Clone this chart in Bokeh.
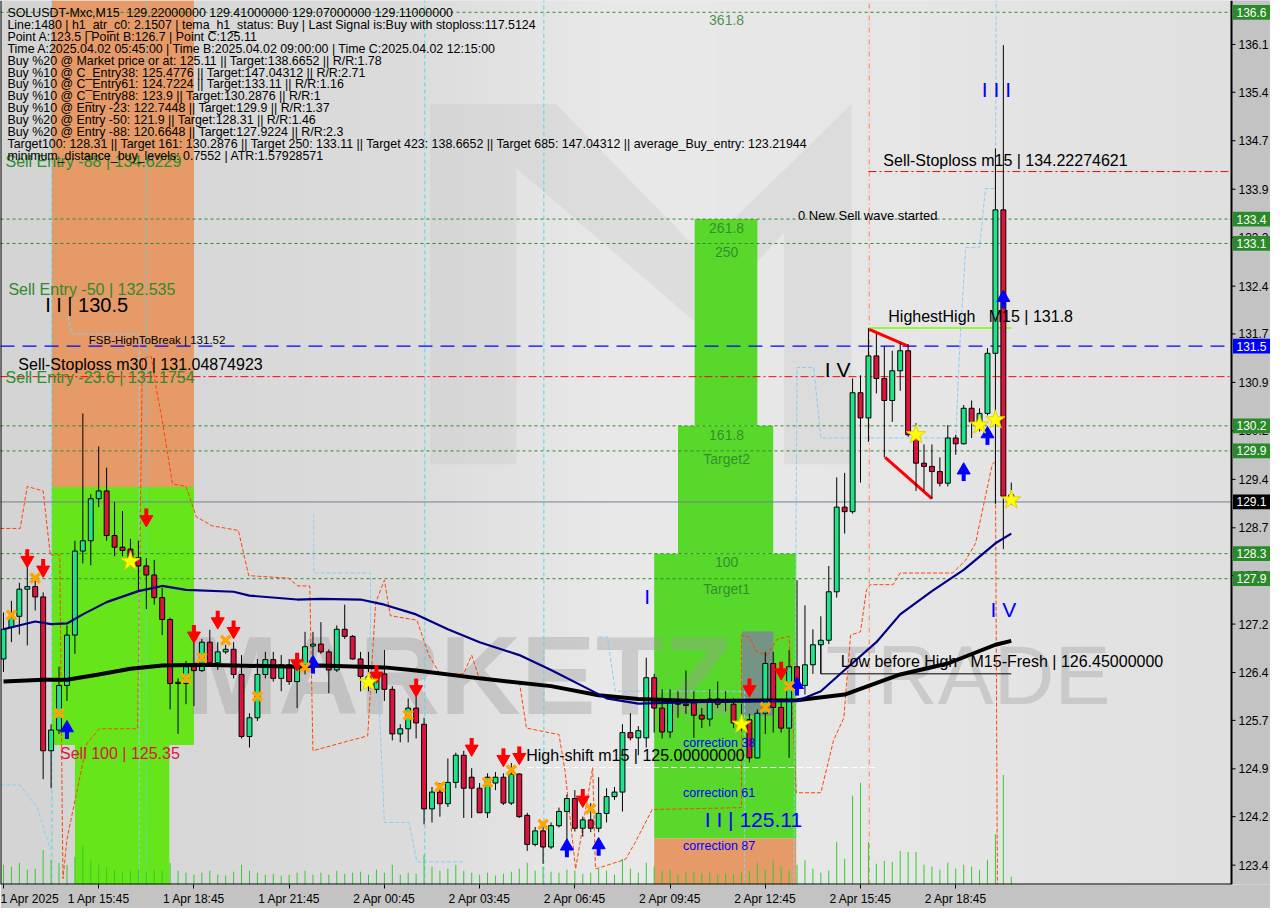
import numpy as np
from bokeh.plotting import figure
from bokeh.models import Range1d, FixedTicker, Label
from bokeh.embed import file_html
from bokeh.resources import INLINE
from bokeh.core.properties import value

# ---------------- data ----------------
opens = [126.68,127.17,127.34,127.76,127.80,127.64,125.26,125.58,126.27,127.05,
         128.35,128.51,129.16,129.28,128.59,128.41,128.38,128.25,128.12,127.98,
         127.63,127.29,126.30,126.30,126.56,126.50,126.94,126.62,126.79,126.83,
         126.44,125.48,125.77,126.44,126.67,126.38,126.59,126.33,126.53,126.88,
         126.91,126.79,126.51,127.14,127.03,126.68,126.41,126.21,126.45,126.21,
         125.52,125.60,125.92,125.67,124.36,124.62,124.44,124.77,125.19,124.85,
         124.68,124.30,124.76,124.85,124.45,124.90,124.26,123.81,124.02,123.77,
         124.10,124.32,124.52,124.06,124.19,124.06,124.29,124.55,124.62,125.54,
         125.46,125.46,126.39,125.92,125.55,126.00,125.98,126.00,125.81,125.75,
         126.06,126.03,125.98,125.72,125.74,125.15,125.84,126.61,125.93,125.61,
         126.56,126.27,126.59,126.90,126.97,127.72,129.03,128.96,130.80,130.41,
         131.37,131.02,130.68,131.14,131.45,130.15,129.71,129.66,129.58,129.40,
         130.10,130.01,130.56,130.35,130.48,131.41,133.63,129.22]
highs = [127.40,127.58,127.86,128.36,127.90,127.71,125.67,126.56,127.20,128.51,
         130.48,129.23,129.97,129.64,129.11,128.97,128.54,128.51,128.24,128.21,
         127.78,127.32,126.38,126.65,126.94,126.99,127.13,126.94,126.90,126.94,
         126.74,125.84,126.68,126.79,126.79,126.74,126.68,126.68,127.10,127.10,
         127.25,126.83,127.20,127.52,127.05,126.79,126.79,126.53,126.82,126.26,
         125.67,126.07,126.22,125.77,124.70,124.76,125.14,125.23,125.26,124.99,
         124.76,124.91,124.93,124.91,125.07,124.91,124.30,124.08,124.16,124.15,
         124.38,124.58,124.65,124.24,124.45,124.85,124.68,124.70,125.67,125.84,
         125.64,126.70,126.45,126.21,126.21,126.18,126.50,126.18,125.92,126.21,
         126.33,126.18,126.07,125.99,125.83,125.90,126.79,126.79,126.07,126.82,
         127.90,127.51,127.14,127.34,128.12,129.49,129.56,131.02,131.07,131.80,
         131.71,131.52,131.45,131.57,131.55,130.33,130.00,130.00,129.80,130.30,
         130.15,130.61,130.68,130.56,131.49,134.58,136.18,129.41]
lows = [126.48,126.94,127.06,126.89,127.43,124.82,124.68,125.52,126.03,126.76,
        128.16,128.13,129.03,128.51,128.27,128.27,128.12,127.75,127.45,127.52,
        127.05,125.90,125.52,125.98,125.95,126.48,126.59,126.51,126.76,126.38,
        125.45,125.31,125.72,126.38,126.33,126.18,126.28,125.92,126.44,126.74,
        126.76,126.15,126.48,126.99,126.67,126.18,126.18,126.15,126.03,125.42,
        125.39,125.39,125.45,124.12,124.15,124.24,124.39,124.68,124.22,124.22,
        124.30,124.22,124.65,124.42,124.42,124.22,123.71,123.78,123.51,123.74,
        124.07,123.74,124.01,123.93,124.00,124.00,124.15,124.50,124.32,125.42,
        125.19,125.31,125.54,125.45,125.46,125.77,125.83,125.46,125.61,125.64,
        125.92,125.87,125.61,125.57,125.08,125.14,125.52,125.54,125.54,125.15,
        126.13,126.13,126.45,126.45,126.91,127.63,128.62,128.93,129.41,130.04,
        130.79,129.80,130.35,130.83,130.12,129.28,129.28,129.16,129.35,129.35,
        129.84,130.00,130.10,130.20,130.45,129.08,128.38,129.07]
closes = [127.14,127.32,127.76,127.80,127.64,125.26,125.58,126.27,127.05,128.35,
          128.51,129.16,129.28,128.59,128.41,128.36,128.25,128.12,127.98,127.63,
          127.29,126.30,126.32,126.56,126.50,126.94,126.62,126.79,126.83,126.44,
          125.48,125.77,126.44,126.67,126.38,126.59,126.33,126.53,126.87,126.91,
          126.79,126.51,127.14,127.03,126.68,126.41,126.33,126.45,126.21,125.52,
          125.60,125.92,125.69,124.36,124.62,124.44,124.77,125.19,124.68,124.68,
          124.30,124.85,124.85,124.45,124.90,124.24,123.81,124.02,123.77,124.10,
          124.32,124.52,124.06,124.19,124.06,124.29,124.55,124.62,125.54,125.46,
          125.57,126.39,125.92,125.55,126.00,125.98,125.96,125.81,125.75,126.06,
          125.98,126.01,125.69,125.65,125.15,125.84,126.61,125.93,125.61,126.56,
          126.27,126.59,126.90,126.97,127.72,129.03,128.96,130.80,130.41,131.37,
          131.02,130.68,131.14,131.45,130.15,129.71,129.66,129.58,129.40,130.10,
          130.01,130.56,130.35,130.48,131.41,133.63,129.20,129.11]
volumes = [20,18,22,15,16,35,25,22,20,28,
           40,25,20,18,15,12,14,16,12,15,
           14,22,14,12,10,12,14,10,9,13,
           20,14,12,10,11,9,10,12,14,10,
           12,10,14,11,12,13,10,15,12,20,
           10,12,11,30,18,14,16,20,14,12,
           10,12,9,11,13,16,22,14,18,13,
           12,15,14,11,12,16,14,10,26,16,
           12,22,18,14,15,10,12,13,11,12,
           10,11,10,12,14,22,15,24,18,14,
           20,25,16,12,14,43,26,90,103,43,
           21,24,23,34,33,33,20,18,15,22,
           16,20,18,15,25,51,111,8]

x_tick_idx = [0, 12, 24, 36, 48, 60, 72, 84, 96, 108, 120]
x_tick_labels = ["1 Apr 2025", "1 Apr 15:45", "1 Apr 18:45", "1 Apr 21:45", "2 Apr 00:45",
                 "2 Apr 03:45", "2 Apr 06:45", "2 Apr 09:45", "2 Apr 12:45", "2 Apr 15:45",
                 "2 Apr 18:45"]
y_tick_vals = [136.19, 135.45, 134.70, 133.95, 133.20, 132.45, 131.71, 130.96, 130.21,
               129.46, 128.71, 127.97, 127.22, 126.47, 125.73, 124.98, 124.24, 123.49]
y_tick_labels = ["136.1", "135.4", "134.7", "133.9", "133.2", "132.4", "131.7", "130.9", "130.2",
                 "129.4", "128.7", "127.9", "127.2", "126.4", "125.7", "124.9", "124.2", "123.4"]

# moving averages (bar index, price)
ma_fast_idx = [0,4,6,8,10,13,17,20,23,29,31,37,40,45,48,52,56,60,65,69,73,76,80,87,95,100,103,106,110,113,117,121,125,127]
ma_fast_val = [127.14,127.26,127.22,127.23,127.37,127.56,127.73,127.81,127.75,127.72,127.66,127.60,127.61,127.60,
               127.52,127.37,127.14,126.94,126.74,126.51,126.26,126.07,125.99,126.01,126.03,126.03,126.18,126.51,
               126.94,127.37,127.73,128.06,128.47,128.62]
ma_slow_idx = [0,5,8,12,16,20,25,29,37,40,48,52,60,69,75,80,87,100,106,113,119,125,127]
ma_slow_val = [126.33,126.36,126.36,126.44,126.53,126.58,126.59,126.58,126.56,126.58,126.55,126.50,126.38,
               126.26,126.12,126.06,126.03,126.04,126.13,126.44,126.61,126.90,126.96]

# stepped envelope (orange-red dashed)
env_idx = [-0.4,2.1,3.0,5.0,5.9,7.1,7.4,7.5,8.0,10.5,12.1,16.9,17.5,18.6,19.4,19.9,21.3,23.0,24.3,26.3,29.6,
           30.9,35.9,37.1,38.6,39.0,43.75,45.9,46.9,48.0,48.75,52.1,53.6,55.0,58.0,59.0,60.0,65.0,65.9,70.0,
           70.75,72.1,74.25,74.6,78.4,79.6,81.75,93.0,93.0,94.0,94.9,96.25,97.5,99.0,99.9,103.0,104.6,105.9,
           106.75,108.0,108.75,109.25,112.1,113.0,119.6,121.25,122.5,123.0,124.6,125.0,125.25]
env_val = [128.70,128.70,129.35,129.28,128.29,128.29,124.35,123.28,123.89,125.37,125.60,125.60,131.32,131.37,
           130.76,130.45,129.39,129.35,128.88,128.74,128.67,127.97,127.93,127.81,127.81,125.26,125.42,125.49,
           127.55,127.90,127.35,127.28,126.74,126.45,126.45,126.74,126.36,126.33,125.61,125.51,124.96,123.43,
           125.00,123.43,123.58,123.84,124.35,124.38,127.05,127.02,126.79,126.74,126.99,127.03,124.61,124.61,
           125.42,125.77,127.05,127.10,127.75,127.83,127.83,128.01,128.01,128.21,128.47,128.77,129.69,129.74,123.19]

# stepped light-blue dashed line, several pieces
sky_idx = [[-0.4,2.1,4.25,5.9],
           [8.1,8.6,17.1,17.1],
           [39.1,39.1,46.25,46.25,47.1,48.0,51.1,52.1,58.0],
           [75.0,76.1,77.1,93.4,93.4],
           [99.6,100.0,102.1,103.0,120.0,120.5,121.25,123.0,123.75,125.0,125.1]]
sky_val = [[124.73,124.73,124.38,123.74],
           [131.98,131.71,131.71,123.19],
           [128.93,128.01,128.01,126.94,126.68,124.15,124.15,123.54,123.54],
           [127.02,127.02,126.18,126.18,123.19],
           [123.19,131.19,131.19,130.10,130.10,131.52,133.05,133.05,133.96,133.96,136.87]]

# levels
green_levels = [136.6876, 133.4876, 133.11, 130.2876, 129.9, 128.31, 127.9224]
fsb_level = 131.52
stop_m30 = 131.04874923
stop_m15 = 134.22274621
current_price = 129.11
high_shift = 125.0
low_before_high = 126.45
highest_high = 131.8

tag_vals = [136.6876, 133.4876, 133.11, 131.52, 130.2876, 129.9, 129.11, 128.31, 127.9224]
tag_texts = ["136.6", "133.4", "133.1", "131.5", "130.2", "129.9", "129.1", "128.3", "127.9"]
tag_colors = ["#2a8a2a", "#2a8a2a", "#2a8a2a", "#0000ff", "#2a8a2a", "#2a8a2a", "#000000", "#2a8a2a", "#2a8a2a"]

# signal markers (bar index, price)
sell_arrow_idx = [3,5,18,24,27,29,37,47,52,59,63,65,73,94,98]
sell_arrow_val = [128.27,128.12,128.90,127.10,127.32,127.17,126.67,126.48,126.27,125.35,125.19,125.22,124.56,126.27,126.53]
buy_arrow_idx = [8,39,71,75,100,121,124,126]
buy_arrow_val = [125.55,126.56,123.72,123.74,126.22,129.54,130.10,132.21]
cross_idx = [1,4,7,23,25,28,32,38,51,55,61,64,68,74,96,99]
cross_val = [127.36,127.93,125.84,126.38,126.70,126.97,126.10,126.55,125.81,124.70,124.77,124.96,124.12,124.36,125.93,126.26]
star_idx = [16,46,93,115,123,125,127]
star_val = [128.19,126.32,125.67,130.15,130.30,130.38,129.14]

# ---------------- geometry ----------------
FW = 1270                     # frame width in px (chart + price scale)
CW = 1231.0                   # chart part width in px
X0, XC = -0.375, 154.75       # chart x limits (bar index)
XE = X0 + (XC - X0) * FW / CW  # end of price-scale strip
Y0, Y1 = 123.19, 136.87
REF_W, REF_H = 1241.0, 896.0
KY = (Y1 - Y0) / REF_H
KX = (XC - X0) / CW


def rx(px):
    return X0 + (XC - X0) * px / REF_W


def ry(py):
    return Y1 - (Y1 - Y0) * py / REF_H


p = figure(width=FW, height=908, output_backend="svg", toolbar_location=None,
           x_range=Range1d(X0, XE), y_range=Range1d(Y0, Y1), y_axis_location=None,
           min_border_left=0, min_border_top=0, min_border_right=0, min_border_bottom=0)
p.extra_y_ranges = {"vol": Range1d(0, REF_H)}
p.background_fill_color = "#dcdcdc"
p.border_fill_color = "#c3c3c3"
p.outline_line_color = None
p.grid.visible = False

# background gradient
g = np.interp(np.linspace(0, 1, 256), [0, 0.33, 0.5, 0.75, 1.0], [212, 220, 233, 230, 224]).astype(np.uint8)
img = np.empty((2, 256), dtype=np.uint32)
view = img.view(dtype=np.uint8).reshape((2, 256, 4))
view[..., 0] = g
view[..., 1] = g
view[..., 2] = g
view[..., 3] = 255
p.image_rgba(image=[img], x=X0, y=Y0, dw=XC - X0, dh=Y1 - Y0)

# logo shapes (faint)
p.patch([rx(433), rx(560), rx(705), rx(858), rx(858), rx(790), rx(790), rx(705), rx(520), rx(520), rx(433)],
        [ry(105), ry(105), ry(255), ry(105), ry(470), ry(470), ry(235), ry(330), ry(170), ry(470), ry(470)],
        fill_color="#c8c8c8", fill_alpha=0.35, line_color=None)

# zones
p.quad(left=[6.1], right=[24.0], bottom=[129.34], top=[Y1], fill_color="#e59a68", line_color=None)
p.quad(left=[6.1], right=[24.0], bottom=[125.35], top=[129.34], fill_color="#66e61a", line_color=None)
p.quad(left=[9.0], right=[20.9], bottom=[Y0], top=[125.35], fill_color="#66e61a", line_color=None)
p.quad(left=[87.1, 85.0, 82.0], right=[95.0, 97.0, 99.9], bottom=[130.2876, 128.31, 123.9],
       top=[133.4876, 130.2876, 128.31], fill_color="#57d82a", line_color=None)
p.quad(left=[82.0], right=[99.9], bottom=[Y0], top=[123.9], fill_color="#e59a68", line_color=None)
p.quad(left=[93.1], right=[97.0], bottom=[125.80], top=[127.11], fill_color="#7a8896", fill_alpha=0.85, line_color=None)

# watermark
p.text(x=[rx(186)], y=[ry(684)], text=["MARKETZ"], text_font=value("Liberation Sans"),
       text_font_size=value("112px"), text_font_style="bold", text_color="#9a9a9a", text_alpha=0.38,
       text_baseline="middle")
p.text(x=[rx(832)], y=[ry(684)], text=["TRADE"], text_font=value("Liberation Sans"),
       text_font_size=value("84px"), text_color="#a8a8a8", text_alpha=0.45, text_baseline="middle")

# vertical dashed lines
for vx, col, dash in [(6.1, "#4fd6e8", "4 3"), (18.0, "#4fd6e8", "4 3"), (53.1, "#4fd6e8", "4 3"),
                      (68.1, "#4fd6e8", "4 3"), (109.1, "#ff7f50", "5 3 1 3")]:
    p.segment(x0=[vx], y0=[Y0], x1=[vx], y1=[Y1], line_color=col, line_dash=dash, line_width=1)

# level lines
for lv in green_levels:
    p.segment(x0=[X0], y0=[lv], x1=[XC], y1=[lv], line_color="#2e8b2e", line_dash="3 3", line_width=1)
p.segment(x0=[X0], y0=[fsb_level], x1=[XC], y1=[fsb_level], line_color="#0000ff", line_dash="14 8", line_width=1.3)
p.segment(x0=[X0], y0=[stop_m30], x1=[XC], y1=[stop_m30], line_color="#ff0000", line_dash="8 3 2 3", line_width=1)
p.segment(x0=[109.0], y0=[stop_m15], x1=[XC], y1=[stop_m15], line_color="#ff0000", line_dash="8 3 2 3", line_width=1)
p.segment(x0=[X0], y0=[current_price], x1=[XC], y1=[current_price], line_color="#708090", line_width=1)
p.segment(x0=[66.0], y0=[high_shift], x1=[110.0], y1=[high_shift], line_color="white", line_dash="6 3", line_width=1)
p.line([103.0, 103.0, 127.0], [126.94, low_before_high, low_before_high], line_color="black", line_width=1)
p.segment(x0=[109.0], y0=[highest_high], x1=[127.0], y1=[highest_high], line_color="#7cfc00", line_width=1.5)
p.segment(x0=[109.1, 111.1], y0=[131.78, 129.80], x1=[114.0, 117.0], y1=[131.52, 129.16],
          line_color="#ff0000", line_width=3)

# envelope lines
p.line(env_idx, env_val, line_color="#ff4500", line_dash="4 2", line_width=1)
p.multi_line(sky_idx, sky_val, line_color="#87cefa", line_dash="4 2", line_width=1)

# volumes
n = min(len(opens), len(highs), len(lows), len(closes))
idx = list(range(n))
p.segment(x0=idx, y0=[0] * n, x1=idx, y1=volumes[:n], y_range_name="vol", line_color="#32cd32", line_width=1)

# candles
p.segment(x0=idx, y0=lows[:n], x1=idx, y1=highs[:n], line_color="black", line_width=1)
up = [i for i in idx if closes[i] >= opens[i]]
dn = [i for i in idx if closes[i] < opens[i]]
p.vbar(x=up, bottom=[opens[i] for i in up], top=[closes[i] for i in up], width=0.62,
       fill_color="#1de68a", line_color="black", line_width=1)
p.vbar(x=dn, bottom=[closes[i] for i in dn], top=[opens[i] for i in dn], width=0.62,
       fill_color="#dc143c", line_color="black", line_width=1)

# moving averages
p.line(ma_slow_idx, ma_slow_val, line_color="black", line_width=4)
p.line(ma_fast_idx, ma_fast_val, line_color="#000080", line_width=2.2)

# markers
p.segment(x0=sell_arrow_idx, y0=[v + 7 * KY for v in sell_arrow_val], x1=sell_arrow_idx,
          y1=[v - 1 * KY for v in sell_arrow_val], line_color="#ff0000", line_width=4)
p.scatter(sell_arrow_idx, [v - 4 * KY for v in sell_arrow_val], marker="inverted_triangle", size=13,
          fill_color="#ff0000", line_color="#ff0000")
p.segment(x0=buy_arrow_idx, y0=[v - 7 * KY for v in buy_arrow_val], x1=buy_arrow_idx,
          y1=[v + 1 * KY for v in buy_arrow_val], line_color="#0000ff", line_width=4)
p.scatter(buy_arrow_idx, [v + 4 * KY for v in buy_arrow_val], marker="triangle", size=13,
          fill_color="#0000ff", line_color="#0000ff")
p.scatter(cross_idx, cross_val, marker="x", size=13, line_color="#ffa500", line_width=3.5)
p.scatter(star_idx, star_val, marker="star", size=20, fill_color="#ffff00", line_color="#e6d200")

# ---------- price scale strip (inside the frame, right of the chart) ----------
p.quad(left=[XC], right=[XE + 1], bottom=[Y0 - 1], top=[Y1 + 1], fill_color="#c3c3c3", line_color=None)
p.segment(x0=[XC, X0, X0], y0=[Y0, Y0, Y0], x1=[XC, XC, X0], y1=[Y1, Y0, Y1], line_color="black", line_width=2)
p.segment(x0=[XC] * len(y_tick_vals), y0=y_tick_vals, x1=[XC + 4 * KX] * len(y_tick_vals), y1=y_tick_vals,
          line_color="black", line_width=1)
p.text(x=[XC + 7 * KX] * len(y_tick_vals), y=y_tick_vals, text=y_tick_labels, text_font=value("Liberation Sans"),
       text_font_size=value("12px"), text_color="black", text_baseline="middle")
p.quad(left=[XC + 1.5 * KX] * len(tag_vals), right=[XE + 1] * len(tag_vals),
       bottom=[v - 7.5 * KY for v in tag_vals], top=[v + 7.5 * KY for v in tag_vals],
       fill_color=tag_colors, line_color=None)
p.text(x=[XC + 5 * KX] * len(tag_vals), y=tag_vals, text=tag_texts, text_font=value("Liberation Sans"),
       text_font_size=value("12px"), text_color="white", text_baseline="middle")

# x axis
p.xaxis.ticker = FixedTicker(ticks=x_tick_idx)
p.xaxis.major_label_overrides = dict(zip(x_tick_idx, x_tick_labels))
p.xaxis.major_label_text_align = "left"
p.xaxis.major_label_text_font = "Liberation Sans"
p.xaxis.major_label_text_font_size = "12px"
p.xaxis.major_label_text_color = "black"
p.xaxis.major_tick_in = 0
p.xaxis.major_tick_out = 4
p.xaxis.minor_tick_out = 0
p.xaxis.minor_tick_in = 0
p.xaxis.axis_line_color = None
p.xaxis.major_tick_line_color = "black"
p.xaxis.major_label_standoff = 3


def lab(px, py, text, size="16px", color="black", align="left", font="Liberation Sans", alpha=1.0):
    p.add_layout(Label(x=rx(px), y=ry(py), text=text.replace("  ", "\u00a0\u00a0"), text_font=font,
                       text_font_size=size, text_color=color, text_align=align, text_baseline="middle",
                       text_alpha=alpha))


info = ["SOLUSDT-Mxc,M15  129.22000000 129.41000000 129.07000000 129.11000000",
        "Line:1480 | h1_atr_c0: 2.1507 | tema_h1_status: Buy | Last Signal is:Buy with stoploss:117.5124",
        "Point A:123.5 | Point B:126.7 | Point C:125.11",
        "Time A:2025.04.02 05:45:00 | Time B:2025.04.02 09:00:00 | Time C:2025.04.02 12:15:00",
        "Buy %20 @ Market price or at: 125.11 || Target:138.6652 || R/R:1.78",
        "Buy %10 @ C_Entry38: 125.4776 || Target:147.04312 || R/R:2.71",
        "Buy %10 @ C_Entry61: 124.7224 || Target:133.11 || R/R:1.16",
        "Buy %10 @ C_Entry88: 123.9 || Target:130.2876 || R/R:1",
        "Buy %10 @ Entry -23: 122.7448 || Target:129.9 || R/R:1.37",
        "Buy %20 @ Entry -50: 121.9 || Target:128.31 || R/R:1.46",
        "Buy %20 @ Entry -88: 120.6648 || Target:127.9224 || R/R:2.3",
        "Target100: 128.31 || Target 161: 130.2876 || Target 250: 133.11 || Target 423: 138.6652 || Target 685: 147.04312 || average_Buy_entry: 123.21944",
        "minimum_distance_buy_levels: 0.7552 | ATR:1.57928571"]

lab(5, 163, "Sell Entry -88 | 134.6229", "16px", "#2e8b2e")
for k, t in enumerate(info):
    lab(7, 12.5 + 12.1 * k, t, "12.4px", "black")

lab(8, 293, "Sell Entry -50 | 132.535", "16px", "#2e8b2e")
lab(45, 309, "I I | 130.5", "20px", "black")
lab(89, 344, "FSB-HighToBreak | 131.52", "11.5px", "black")
lab(18, 369, "Sell-Stoploss m30 | 131.04874923", "16px", "black")
lab(5, 382, "Sell Entry -23.6 | 131.1754", "16px", "#2e8b2e")
lab(60, 763, "Sell 100 | 125.35", "16px", "#dc143c")

for py, t in [(20, "361.8"), (231, "261.8"), (255, "250"), (440, "161.8"), (465, "Target2"), (569, "100"), (596, "Target1")]:
    lab(732, py, t, "14px", "#2f7f2f", align="center", alpha=0.85)
lab(688, 753, "correction 38", "12.5px", "#0000ff")
lab(688, 803, "correction 61", "12.5px", "#0000ff")
lab(688, 857, "correction 87", "12.5px", "#0000ff")
lab(710, 830, "I I | 125.11", "21px", "#0000ff")
lab(652, 604, "I", "21px", "#0000ff", align="center")
lab(530, 765, "High-shift m15 | 125.00000000", "16px", "black")
lab(847, 670, "Low before High   M15-Fresh | 126.45000000", "16px", "black")
lab(831, 374, "I V", "21px", "black")
lab(895, 320, "HighestHigh   M15 | 131.8", "16px", "black")
lab(804, 218, "0 New Sell wave started", "13px", "black")
lab(890, 162, "Sell-Stoploss m15 | 134.22274621", "16px", "black")
lab(1004, 90, "I I I", "21px", "#0000ff", align="center")
lab(1011, 617, "I V", "21px", "#0000ff", align="center")

open("out.html", "w").write(file_html(p, INLINE))
